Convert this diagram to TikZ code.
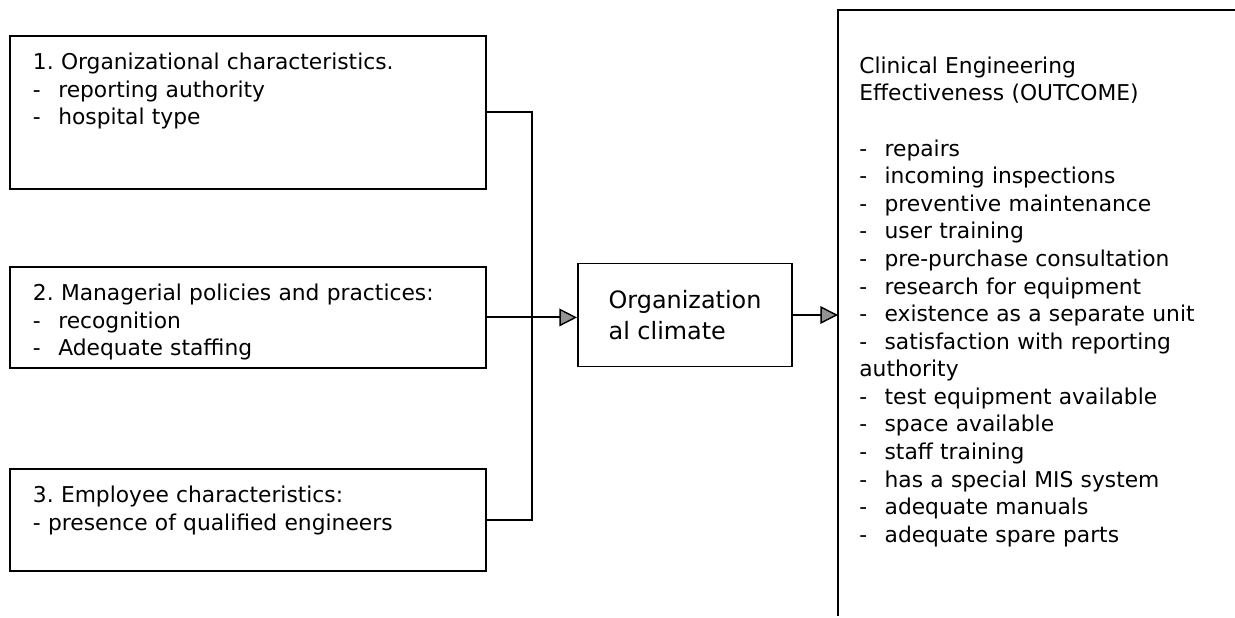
\documentclass[tikz,border=0pt]{standalone}
\usepackage{fontspec}
\setmainfont{DejaVu Sans}
\usetikzlibrary{arrows.meta, positioning}
\frenchspacing

% Dash with the wide gap used in the item lists
\newcommand{\dashitem}{-\hspace{0.8em}}

\begin{document}
\begin{tikzpicture}[x=0.02cm, y=-0.02cm,
        % Input boxes: solid border, text set from the top left.
        % The argument is the box height (fixed \vbox, as the boxes differ).
        factor/.style={rectangle, draw=black, line width=1.1pt, anchor=north west,
            text width=8.6cm, inner xsep=0.46cm, inner ysep=0pt, align=left,
            font=\fontsize{12.4}{15.5}\selectfont,
            execute at begin node={\vbox to #1\bgroup\vskip\dimexpr0.68cm-15.5pt\relax\hbox{}\noindent},
            execute at end node={\vfil\egroup}},
        % Middle box: larger text
        climate/.style={rectangle, draw=black, line width=1.1pt,
            minimum width=4.28cm, minimum height=2.06cm,
            inner xsep=0.46cm, align=left,
            font=\fontsize{13.6}{17.8}\selectfont},
        % Outcome list: open frame, drawn separately
        outcome/.style={rectangle, anchor=north west,
            text width=7.3cm, inner xsep=0.42cm, inner ysep=0pt, align=left,
            font=\fontsize{12.4}{15.7}\selectfont,
            execute at begin node={\vbox to 12.1cm\bgroup\vskip\dimexpr1.26cm-15.7pt\relax\hbox{}\noindent},
            execute at end node={\vfil\egroup}},
        link/.style={draw=black, line width=1.1pt},
        arrow/.style={link, -{Triangle[length=10pt, width=10pt, fill=gray!85, line width=0.8pt]}},
        ]

        \useasboundingbox (0,0) rectangle (1235,618);

        % Column / row positions (pixels of the reference)
        \def\colL{9}
        \def\rowA{35}
        \def\rowB{266}
        \def\rowC{468}

        % === Left column: the three factors ===
        \node[factor=3.06cm] (f1) at (\colL,\rowA) {1. Organizational characteristics.\\\dashitem reporting authority\\\dashitem hospital type};
        \node[factor=2.02cm] (f2) at (\colL,\rowB) {2. Managerial policies and practices:\\\dashitem recognition\\\dashitem Adequate staffing};
        \node[factor=2.04cm] (f3) at (\colL,\rowC) {3. Employee characteristics:\\- presence of qualified engineers};

        % === Middle: climate ===
        \node[climate] (clim) at (685,315) {Organization\\al climate};
        \coordinate (bus) at (532,315);

        % === Right: outcome list ===
        \node[outcome] (out) at (838,10) {Clinical Engineering\\Effectiveness (OUTCOME)\\[15.7pt]
            \dashitem repairs\\
            \dashitem incoming inspections\\
            \dashitem preventive maintenance\\
            \dashitem user training\\
            \dashitem pre-purchase consultation\\
            \dashitem research for equipment\\
            \dashitem existence as a separate unit\\
            \dashitem satisfaction with reporting\\
            authority\\
            \dashitem test equipment available\\
            \dashitem space available\\
            \dashitem staff training\\
            \dashitem has a special MIS system\\
            \dashitem adequate manuals\\
            \dashitem adequate spare parts};
        \draw[link] (out.south west) -- (out.north west) -- (out.north east);

        % === Connectors ===
        \draw[link] (f1.east) -| (bus) |- (f3.east);
        \draw[arrow] (f2.east) -- (f2.east -| clim.west);
        \draw[arrow] (clim.east) -- (clim.east -| out.west);

    \end{tikzpicture}
\end{document}
